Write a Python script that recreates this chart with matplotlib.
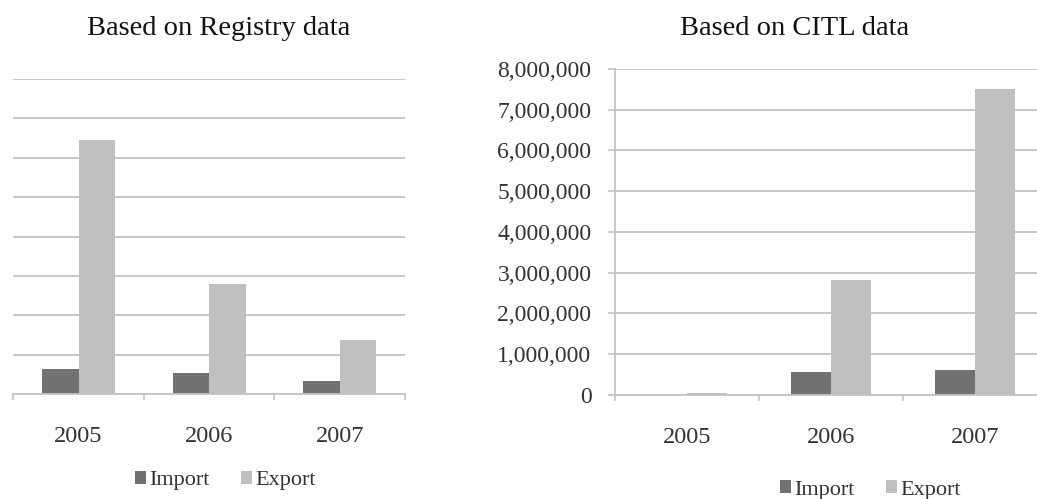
import numpy as np
import matplotlib
matplotlib.use("Agg")
import matplotlib.pyplot as plt
from matplotlib.ticker import FuncFormatter, MultipleLocator

plt.rcParams['font.family'] = ['Liberation Serif', 'DejaVu Serif']

years = ['2005', '2006', '2007']
series_names = ['Import', 'Export']

# registry figures (tonnes)
registry_import = [630000, 540000, 340000]
registry_export = [6450000, 2790000, 1370000]

# CITL figures (tonnes)
citl_import = [0, 570000, 610000]
citl_export = [45000, 2820000, 7500000]

IMPORT_COL = '#727272'
EXPORT_COL = '#c0c0c0'
GRID_COL = '#c4c4c4'
TEXT_COL = '#333333'

fig = plt.figure(figsize=(10.37, 4.99), dpi=100)

ax_reg = fig.add_axes([0.0128, 0.2104, 0.3777, 0.6313])
ax_citl = fig.add_axes([0.5931, 0.2090, 0.4166, 0.6527])

x = np.arange(len(years))
w = 0.28


def draw_panel(ax, imp, exp, show_y):
    ax.bar(x - w / 2, imp, w, color=IMPORT_COL, label=series_names[0], zorder=3)
    ax.bar(x + w / 2, exp, w, color=EXPORT_COL, label=series_names[1], zorder=3)
    ax.set_xlim(-0.5, 2.5)
    ax.set_ylim(0, 8000000)
    ax.yaxis.set_major_locator(MultipleLocator(1000000))
    ax.grid(axis='y', color=GRID_COL, linewidth=1.3, zorder=0)
    ax.set_axisbelow(True)

    # category ticks sit on the boundaries, labels in the middle
    ax.set_xticks(np.arange(-0.5, 3.0, 1.0))
    ax.set_xticklabels([])
    ax.set_xticks(x, minor=True)
    ax.set_xticklabels(years, minor=True)
    ax.tick_params(axis='x', which='major', length=4, width=1.2, color=GRID_COL, direction='out')
    ax.tick_params(axis='x', which='minor', length=0, pad=23, labelsize=17.5, labelcolor=TEXT_COL)

    for s in ['top', 'right']:
        ax.spines[s].set_visible(False)
    ax.spines['bottom'].set_color(GRID_COL)
    ax.spines['bottom'].set_linewidth(1.3)
    ax.spines['bottom'].set_zorder(4)

    if show_y:
        ax.spines['left'].set_color(GRID_COL)
        ax.spines['left'].set_linewidth(1.3)
        ax.yaxis.set_major_formatter(FuncFormatter(lambda v, p: f'{int(v):,}'))
        ax.tick_params(axis='y', length=5, width=1.2, color=GRID_COL, pad=12,
                       labelsize=17, labelcolor=TEXT_COL)
    else:
        ax.spines['left'].set_visible(False)
        ax.tick_params(axis='y', length=0, labelleft=False)


draw_panel(ax_reg, registry_import, registry_export, False)
draw_panel(ax_citl, citl_import, citl_export, True)

fig.text(0.211, 0.942, 'Based on Registry data', ha='center', va='center',
         fontsize=20.5, color='#111111')
fig.text(0.766, 0.942, 'Based on CITL data', ha='center', va='center',
         fontsize=20.5, color='#111111')

leg_kw = dict(frameon=False, ncol=2, fontsize=16, handlelength=0.5, handleheight=0.5,
              handletextpad=0.15, columnspacing=1.4, labelcolor=TEXT_COL)
ax_reg.legend(loc='center', bbox_to_anchor=(0.217, 0.037),
              bbox_transform=fig.transFigure, **leg_kw)
ax_citl.legend(loc='center', bbox_to_anchor=(0.839, 0.018),
               bbox_transform=fig.transFigure, **leg_kw)

fig.savefig('out.png', dpi=100)
